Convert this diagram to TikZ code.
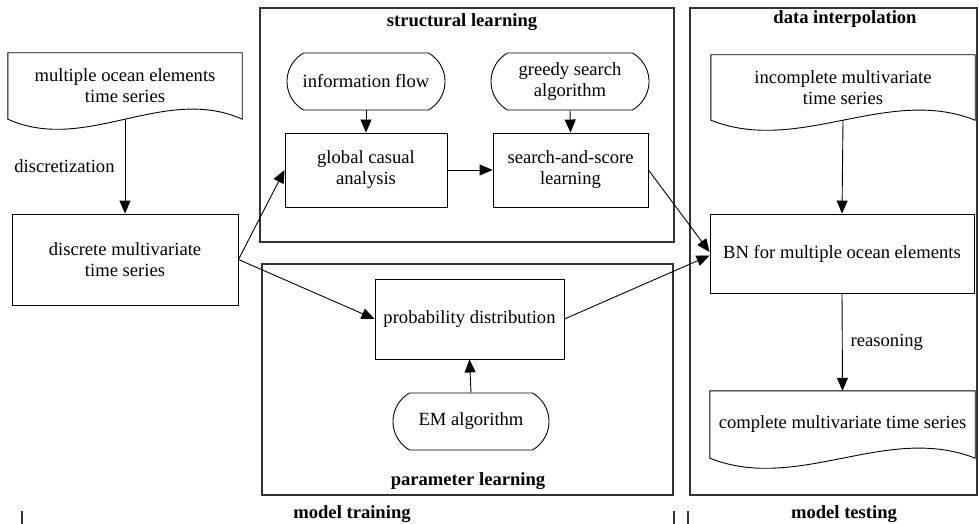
\documentclass[tikz,border=0pt]{standalone}
\usepackage{fontspec}
\setmainfont{Liberation Serif}
\usetikzlibrary{arrows.meta,calc,shapes.misc}
\tikzset{
  every node/.style={font=\fontsize{18.6}{21}\selectfont, align=center},
  box/.style={draw, line width=0.9pt, inner sep=0pt},
  term/.style={draw, rounded rectangle, rounded rectangle arc length=120, line width=0.9pt, inner sep=0pt},
  doc/.style={inner sep=0pt},
  group/.style={draw, line width=1.1pt, black!80},
  title/.style={font=\fontsize{18.6}{21}\selectfont\bfseries, inner sep=0pt},
  lbl/.style={inner sep=0pt},
  flow/.style={-{Triangle[length=13pt,width=11pt]}, line width=0.9pt},
}
% document outline with wavy bottom
\newcommand{\docwave}[1]{\draw[line width=0.9pt] (#1.south west) -- (#1.north west) -- (#1.north east) -- (#1.south east)
  .. controls ($(#1.south east)!1/3!(#1.south west)+(0,-35)$) and ($(#1.south east)!2/3!(#1.south west)+(0,35)$) .. (#1.south west) -- cycle;}
\begin{document}
\begin{tikzpicture}[x=1pt,y=-1pt]
\useasboundingbox (0,0) rectangle (979,524);
% groups
\draw[group] (260,8) rectangle (674,242);
\draw[group] (262,264) rectangle (673,495);
\draw[group] (690,8) rectangle (977,495);
\node[title] (tstruct) at (462,22) {structural learning};
\node[title] (tparam) at (468,481) {parameter learning};
\node[title] (tdata) at (845,19) {data interpolation};
\node[title] (ttrain) at (352,514) {model training};
\node[title] (ttest) at (844,514) {model testing};
\draw[group] (22,511) -- (22,524) (674,511) -- (674,524) (688,511) -- (688,524);
% training side
\node[doc, minimum width=234pt, minimum height=66pt] (ocean) at (125,86) {multiple ocean elements\\time series};
\docwave{ocean}
\node[box, minimum width=226pt, minimum height=91pt] (disc) at (125,259.5) {discrete multivariate\\time series};
\node[term, minimum width=158pt, minimum height=57pt] (info) at (366,81.5) {information flow};
\node[term, minimum width=158pt, minimum height=57pt] (greedy) at (570,81.5) {greedy search\\algorithm};
\node[box, minimum width=162pt, minimum height=74pt] (causal) at (366,170) {global casual\\analysis};
\node[box, minimum width=155pt, minimum height=74pt] (score) at (570.5,170) {search-and-score\\learning};
\node[box, minimum width=189pt, minimum height=80pt] (prob) at (469.5,319) {probability distribution};
\node[term, minimum width=156pt, minimum height=57pt] (em) at (471,421.5) {EM algorithm};
% testing side
\node[doc, minimum width=264pt, minimum height=65pt] (incomp) at (843,87.5) {incomplete multivariate\\time series};
\docwave{incomp}
\node[box, minimum width=264pt, minimum height=79pt] (bn) at (842,253.5) {BN for multiple ocean elements};
\node[doc, minimum width=265pt, minimum height=67pt] (comp) at (842.5,424.5) {complete multivariate time series};
\docwave{comp}
% connectors
\draw[flow] (ocean.south) -- node[lbl, left=10pt] {discretization} (disc.north);
\draw[flow] (disc.east) -- (causal.west);
\draw[flow] (disc.east) -- (prob.west);
\draw[flow] (info.south) -- (causal.north);
\draw[flow] (greedy.south) -- (score.north);
\draw[flow] (causal.east) -- (score.west);
\draw[flow] (em.north) -- (prob.south);
\draw[flow] (score.east) -- ([yshift=1.5pt]bn.west);
\draw[flow] (prob.east) -- ([yshift=-2pt]bn.west);
\draw[flow] (incomp.south) -- (bn.north);
\draw[flow] (bn.south) -- node[lbl, right=8pt] {reasoning} (comp.north);
\end{tikzpicture}
\end{document}
